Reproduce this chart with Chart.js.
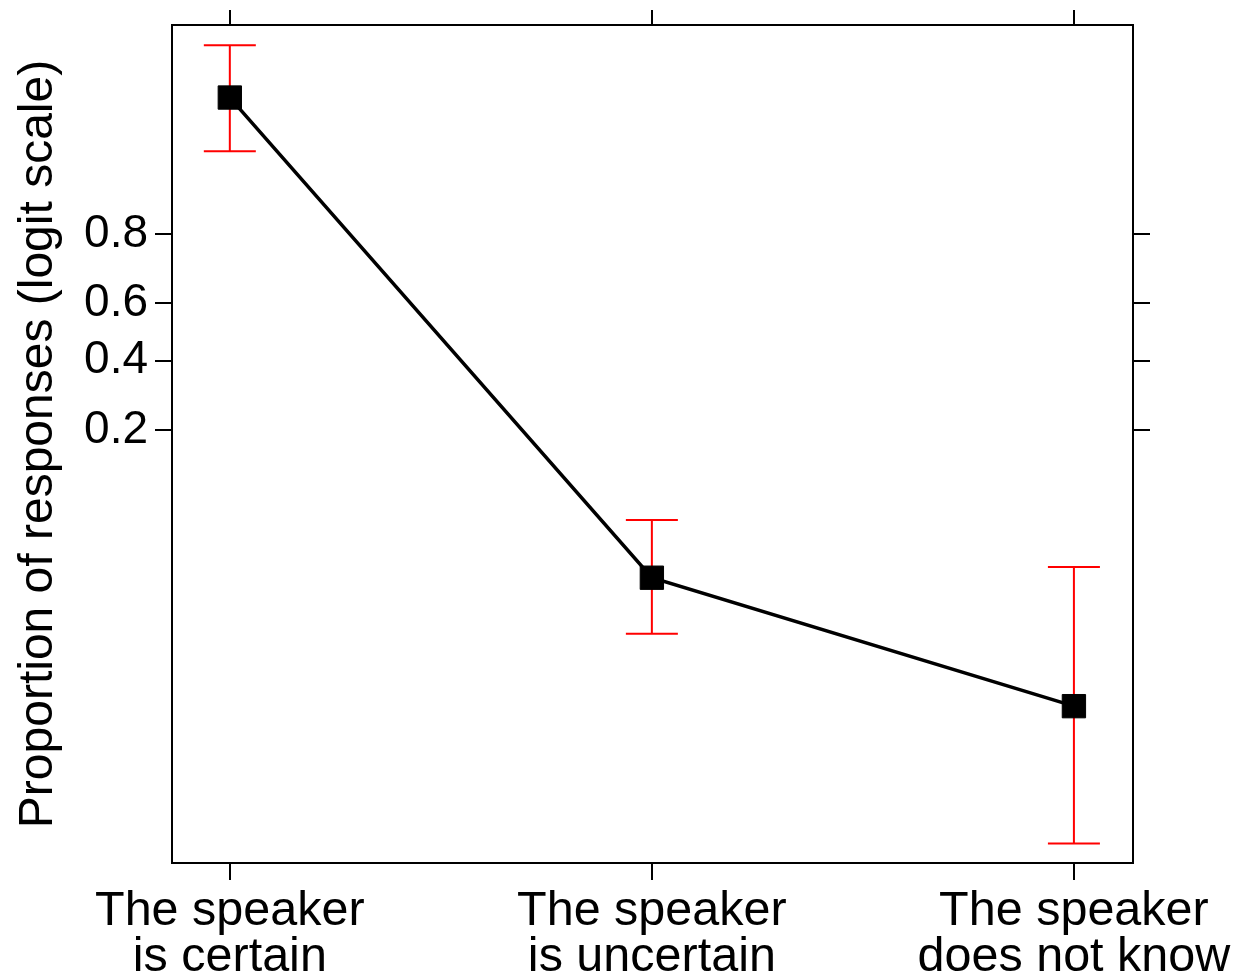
<!DOCTYPE html>
<html>
<head>
<meta charset="utf-8">
<script src="https://cdn.jsdelivr.net/npm/chart.js@4.4.1/dist/chart.umd.min.js"></script>
<style>
  html, body { margin: 0; padding: 0; background: #fff; }
  #plot { display: block; }
</style>
</head>
<body>
<canvas id="plot" width="1246" height="977"></canvas>
<script>
//conditions along the x axis (two lines each)
const categories = [
  ["The speaker", "is certain"],
  ["The speaker", "is uncertain"],
  ["The speaker", "does not know"],
];
//estimated proportions and interval ends
const proportions = [0.965, 0.030, 0.0050];
const upperBounds = [0.983, 0.0654, 0.0347];
const lowerBounds = [0.928, 0.0138, 0.00072];
//ticks on the logit axis
const yTickValues = [0.2, 0.4, 0.6, 0.8];
const yTickLabels = ["0.2", "0.4", "0.6", "0.8"];

const logit = (p) => Math.log(p / (1 - p));
const FONT = "'Liberation Sans', Arial, Helvetica, sans-serif";

//red bars with caps, drawn under the squares
const errorBars = {
  id: "errorBars",
  beforeDatasetsDraw(chart) {
    const { ctx, scales } = chart;
    const x = scales.x, y = scales.y;
    ctx.save();
    ctx.strokeStyle = "#ff0000";
    ctx.lineWidth = 2;
    categories.forEach((_, i) => {
      const px = x.getPixelForValue(i);
      const top = y.getPixelForValue(logit(upperBounds[i]));
      const bottom = y.getPixelForValue(logit(lowerBounds[i]));
      ctx.beginPath();
      ctx.moveTo(px, top);
      ctx.lineTo(px, bottom);
      ctx.moveTo(px - 26, top);
      ctx.lineTo(px + 26, top);
      ctx.moveTo(px - 26, bottom);
      ctx.lineTo(px + 26, bottom);
      ctx.stroke();
    });
    ctx.restore();
  },
};

const axisGrid = (len) => ({
  drawOnChartArea: false,
  color: "#000",
  lineWidth: 2,
  tickLength: len,
});
const axisBorder = { display: true, color: "#000", width: 2 };
const xMin = -0.137, xMax = 2.14;
const yMin = -7.512, yMax = 4.343;

//fix axis sizes so the plot box lands where the reference has it
const fixSize = (w, h) => (s) => {
  if (w !== null) s.width = w;
  if (h !== null) s.height = h;
  s.paddingTop = 0;
  s.paddingBottom = 0;
  s.paddingLeft = 0;
  s.paddingRight = 0;
};

let myChart = new Chart(document.getElementById("plot"), {
  type: "line",
  plugins: [errorBars],
  data: {
    datasets: [
      {
        data: proportions.map((p, i) => ({ x: i, y: logit(p) })),
        borderColor: "#000",
        borderWidth: 3.5,
        pointStyle: "rect",
        pointRadius: 16.5,
        pointBackgroundColor: "#000",
        pointBorderColor: "#000",
        pointBorderWidth: 1,
        tension: 0,
      },
    ],
  },
  options: {
    responsive: false,
    animation: false,
    layout: { padding: 0 },
    plugins: {
      legend: { display: false },
      tooltip: { enabled: false },
    },
    scales: {
      x: {
        type: "linear",
        position: "bottom",
        min: xMin,
        max: xMax,
        afterBuildTicks: (s) => { s.ticks = categories.map((_, i) => ({ value: i })); },
        afterFit: fixSize(null, 114),
        ticks: {
          autoSkip: false,
          maxRotation: 0,
          padding: 9,
          color: "#000",
          font: { family: FONT, size: 48.5, lineHeight: 0.95 },
          callback: (v, i) => categories[i],
        },
        grid: axisGrid(17),
        border: axisBorder,
      },
      xTop: {
        type: "linear",
        position: "top",
        min: xMin,
        max: xMax,
        afterBuildTicks: (s) => { s.ticks = categories.map((_, i) => ({ value: i })); },
        afterFit: fixSize(null, 25),
        ticks: { display: false },
        grid: axisGrid(15),
        border: axisBorder,
      },
      y: {
        type: "linear",
        position: "left",
        min: yMin,
        max: yMax,
        afterBuildTicks: (s) => { s.ticks = yTickValues.map((v) => ({ value: logit(v) })); },
        afterFit: fixSize(172, null),
        ticks: {
          padding: 7,
          color: "#000",
          font: { family: FONT, size: 46 },
          callback: (v, i) => yTickLabels[i],
        },
        title: {
          display: true,
          text: "Proportion of responses (logit scale)",
          color: "#000",
          font: { family: FONT, size: 48, lineHeight: 1.0 },
          padding: { top: 15, bottom: 0 },
        },
        grid: axisGrid(17),
        border: axisBorder,
      },
      yRight: {
        type: "linear",
        position: "right",
        min: yMin,
        max: yMax,
        afterBuildTicks: (s) => { s.ticks = yTickValues.map((v) => ({ value: logit(v) })); },
        afterFit: fixSize(113, null),
        ticks: { display: false },
        grid: axisGrid(17),
        border: axisBorder,
      },
    },
  },
});
</script>
</body>
</html>
